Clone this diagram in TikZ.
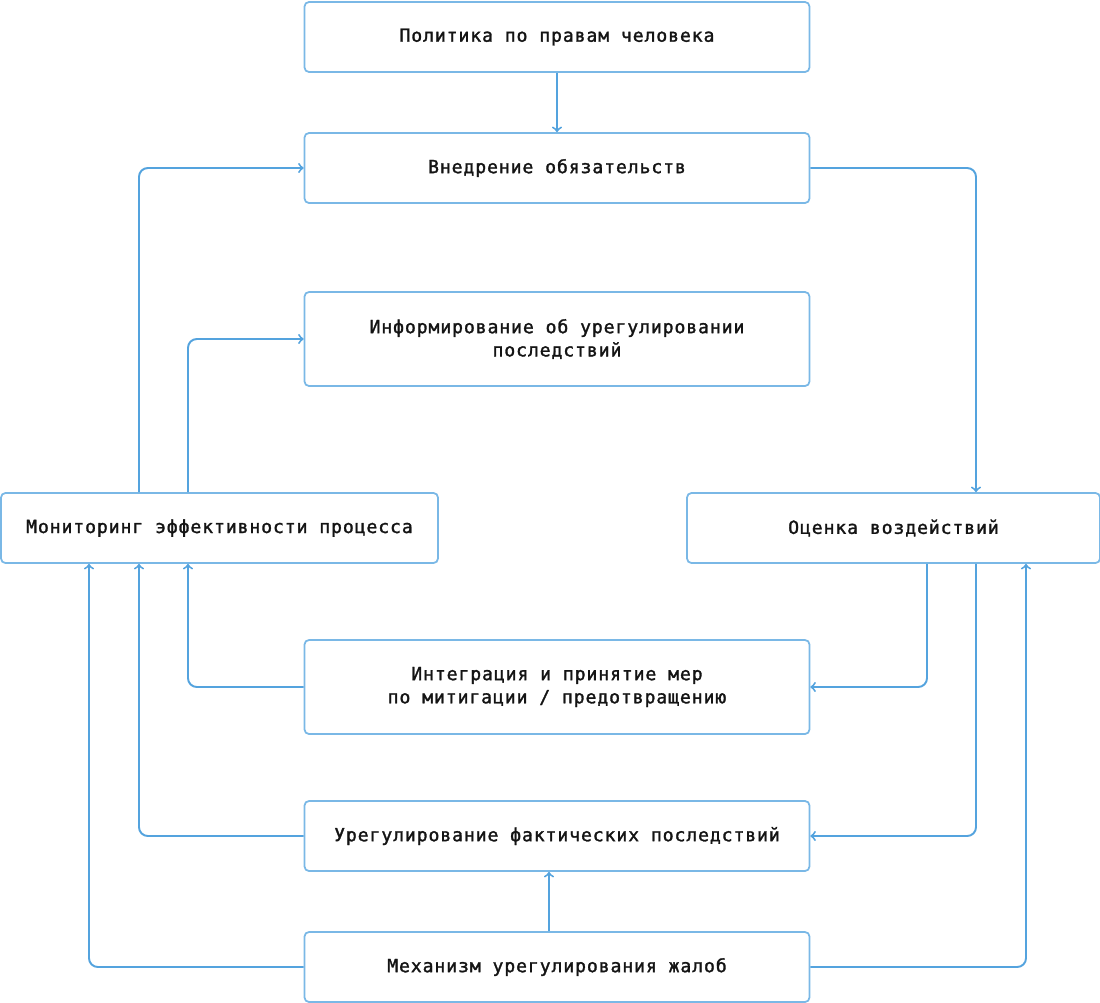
\documentclass[tikz,border=0pt]{standalone}
\usepackage{fontspec}
\newfontfamily\boxfont[LetterSpace=5,FakeBold=1.6]{DejaVu Sans Mono}
\usetikzlibrary{calc}

\definecolor{lineblue}{RGB}{84,163,222}
\definecolor{boxblue}{RGB}{122,184,230}
\definecolor{textblack}{RGB}{20,20,20}

\begin{document}
\begin{tikzpicture}[x=0.02cm,y=-0.02cm,
  block/.style={rectangle,draw=boxblue,line width=1pt,rounded corners=2.5pt,
    minimum width=10.1cm,minimum height=1.4cm,align=center,
    text=textblack,font=\boxfont\fontsize{10.3}{13.2}\selectfont},
  tall/.style={minimum height=1.88cm},
  link/.style={draw=lineblue,line width=1.1pt,rounded corners=5pt,->}]
\useasboundingbox (0,0) rectangle (1100,1002);
% lanes for the connectors
\coordinate (laneA) at (89,0);
\coordinate (laneB) at (139,0);
\coordinate (laneC) at (188,0);
\coordinate (laneD) at (927,0);
\coordinate (laneE) at (976,0);
\coordinate (laneF) at (1026,0);
\coordinate (laneM) at (549,0);
\path
(557,37) node [block] (policy) {Политика по правам человека}
(557,168) node [block] (commit) {Внедрение обязательств}
(557,339) node [block,tall] (inform) {Информирование об урегулировании\\последствий}
(219.5,528) node [block,minimum width=8.74cm] (monitor) {Мониторинг эффективности процесса}
(893.5,528) node [block,minimum width=8.26cm] (assess) {Оценка воздействий}
(557,687) node [block,tall] (mitig) {Интеграция и принятие мер\\по митигации / предотвращению}
(557,836) node [block] (redress) {Урегулирование фактических последствий}
(557,967) node [block] (grieve) {Механизм урегулирования жалоб}
;

\begin{scope}[every path/.style=link]
\path (policy) -- (commit);
% monitoring feeds back to the top
\path (monitor.north -| laneB) |- (commit.west);
\path (monitor.north -| laneC) |- (inform.west);
% assessment loop
\path (commit.east) -| (assess.north -| laneE);
\path (assess.south -| laneD) |- (mitig.east);
\path (assess.south -| laneE) |- (redress.east);
\path (grieve.east) -| (assess.south -| laneF);
% everything reports to monitoring
\path (mitig.west) -| (monitor.south -| laneC);
\path (redress.west) -| (monitor.south -| laneB);
\path (grieve.west) -| (monitor.south -| laneA);
\path (grieve.north -| laneM) -- (redress.south -| laneM);
\end{scope}
\end{tikzpicture}
\end{document}
